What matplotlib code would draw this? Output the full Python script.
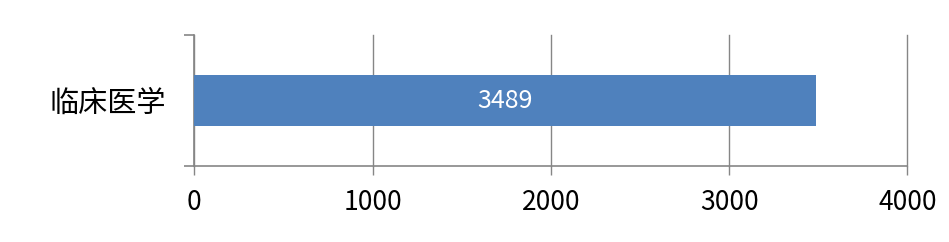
import matplotlib.pyplot as plt
from matplotlib.ticker import FixedLocator

categories = ['临床医学']
values = [3489]
xticks = [0, 1000, 2000, 3000, 4000]

plt.rcParams['font.family'] = ['Noto Sans CJK SC', 'DejaVu Sans']

fig = plt.figure(figsize=(9.49, 2.42), dpi=100)
ax = fig.add_axes([0.2047, 0.314, 0.9561 - 0.2047, 0.854 - 0.314])

grey = '#868686'
bars = ax.barh(categories, values, height=0.395, color='#4F81BD', zorder=3)
for b, v in zip(bars, values):
    ax.text(b.get_width() / 2, b.get_y() + b.get_height() / 2, str(v),
            ha='center', va='center', color='white', fontsize=18, zorder=4)

ax.set_xlim(0, 4000)
ax.set_ylim(-0.5, 0.5)
ax.set_xticks(xticks)
ax.grid(axis='x', color=grey, linewidth=1, zorder=0)
for gl in ax.get_xgridlines():
    gl.set_clip_on(False)

for s in ['top', 'right']:
    ax.spines[s].set_visible(False)
for s in ['left', 'bottom']:
    ax.spines[s].set_color(grey)
    ax.spines[s].set_linewidth(1.2)

ax.tick_params(axis='x', direction='out', length=6.5, color=grey, width=1,
               labelsize=19, pad=10)
ax.tick_params(axis='y', which='major', length=0, labelsize=21, pad=20)
ax.yaxis.set_minor_locator(FixedLocator([-0.5, 0.5]))
ax.tick_params(axis='y', which='minor', direction='out', length=7.5,
               color=grey, width=1.2)

fig.savefig('out.png', dpi=100)
